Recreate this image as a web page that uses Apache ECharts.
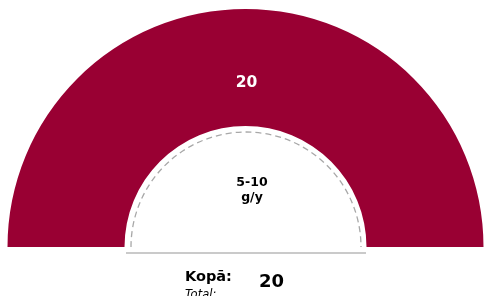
<!DOCTYPE html>
<html>
<head>
<meta charset="utf-8">
<script src="https://cdn.jsdelivr.net/npm/echarts@6/dist/echarts.min.js"></script>
<style>
  html, body { margin: 0; padding: 0; background: #fff; }
  #chart { width: 484px; height: 296px; }
</style>
</head>
<body>
<div id="chart"></div>
<script>
// data
const categories = ['5-10 g/y'];
const values = [20];
const totalLabel = ['Kopā:', 'Total:'];

const total = values.reduce((s, v) => s + v, 0);
const cx = 245.5, cy = 247;

const chart = echarts.init(document.getElementById('chart'), null, { renderer: 'canvas' });

const sliceData = categories.map((name, i) => ({
  name,
  value: values[i],
  itemStyle: { color: '#990033' }
}));
// hidden lower half so the ring becomes a semicircle
sliceData.push({
  name: 'blank',
  value: total,
  itemStyle: { color: 'rgba(0,0,0,0)' },
  label: { show: false },
  emphasis: { disabled: true }
});

chart.setOption({
  animation: false,
  series: [
    {
      type: 'pie',
      center: [cx, cy],
      radius: [121, 238],
      startAngle: 180,
      clockwise: true,
      silent: true,
      data: sliceData,
      label: {
        show: true,
        position: 'inside',
        formatter: '{c}',
        color: '#fff',
        fontFamily: 'DejaVu Sans',
        fontWeight: 'bold',
        fontSize: 15.5,
        offset: [1, 18]
      },
      labelLine: { show: false }
    }
  ],
  graphic: [
    {
      type: 'arc',
      shape: { cx: cx + 0.5, cy: cy, r: 115, startAngle: Math.PI, endAngle: 2 * Math.PI },
      style: { stroke: '#a8a8a8', lineWidth: 1.3, lineDash: [6, 4], fill: null },
      silent: true
    },
    {
      type: 'line',
      shape: { x1: 126, y1: 253, x2: 366, y2: 253 },
      style: { stroke: '#b8b8b8', lineWidth: 1.5 },
      silent: true
    },
    {
      type: 'text',
      x: 252, y: 190,
      style: {
        text: categories[0].replace(' ', '\n'),
        font: 'bold 12.5px "DejaVu Sans"',
        fill: '#000',
        align: 'center',
        verticalAlign: 'middle',
        lineHeight: 15
      }
    },
    {
      type: 'text',
      x: 185, y: 270,
      style: { text: totalLabel[0], font: 'bold 14.5px "DejaVu Sans"', fill: '#000' }
    },
    {
      type: 'text',
      x: 185, y: 289,
      style: { text: totalLabel[1], font: 'italic 11.5px "DejaVu Sans"', fill: '#000' }
    },
    {
      type: 'text',
      x: 259, y: 273,
      style: { text: String(total), font: 'bold 18px "DejaVu Sans"', fill: '#000' }
    }
  ]
});
</script>
</body>
</html>
